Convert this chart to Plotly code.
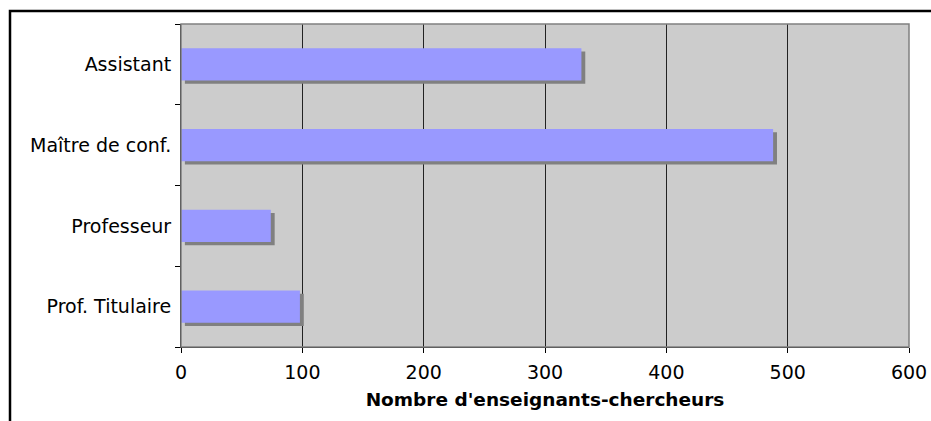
import plotly.graph_objects as go

categories = ["Prof. Titulaire", "Professeur", "Maître de conf.", "Assistant"]
values = [98, 74, 488, 330]
x_ticks = [0, 100, 200, 300, 400, 500, 600]

FONT = "DejaVu Sans"
bar_width = 0.4
shadow_dx = 3.2      # shadow shift along value axis (data units)
shadow_dy = 0.04     # shadow shift along category axis (category units)

fig = go.Figure()
fig.add_trace(go.Bar(
    y=categories, x=values, orientation="h",
    base=[shadow_dx] * len(values),
    width=bar_width, offset=-bar_width / 2 - shadow_dy,
    marker=dict(color="#808080", line=dict(width=0)),
    hoverinfo="skip", showlegend=False,
))
fig.add_trace(go.Bar(
    y=categories, x=values, orientation="h",
    width=bar_width, offset=-bar_width / 2,
    marker=dict(color="#9999FF", line=dict(width=0)),
    showlegend=False,
))

L, R, T, B = 181, 22, 24, 74
W, H = 931, 421
pw, ph = W - L - R, H - T - B

fig.update_layout(
    width=W, height=H,
    margin=dict(l=L, r=R, t=T, b=B, pad=0, autoexpand=False),
    paper_bgcolor="white", plot_bgcolor="#CCCCCC",
    barmode="overlay", bargap=0.6,
    font=dict(family=FONT, size=19, color="black"),
    xaxis=dict(
        range=[0, 600], tickvals=x_ticks, ticktext=[str(v) for v in x_ticks],
        automargin=False,
        showgrid=True, gridcolor="#222222", gridwidth=1,
        showline=True, linecolor="black", linewidth=1,
        ticks="outside", ticklen=5, tickcolor="black",
        ticklabelstandoff=3,
        zeroline=False,
        title=dict(text="<b>Nombre d'enseignants-chercheurs</b>",
                   font=dict(family=FONT, size=18.5), standoff=11),
        fixedrange=True,
    ),
    yaxis=dict(
        categoryorder="array", categoryarray=categories,
        automargin=False,
        showgrid=False, showline=True, linecolor="black", linewidth=1,
        ticks="outside", ticklen=5, tickcolor="black", tickson="boundaries",
        ticklabelstandoff=5,
        fixedrange=True,
    ),
    shapes=[
        # plot-area border (gray on top / right)
        dict(type="rect", xref="paper", yref="paper", x0=0, x1=1, y0=0, y1=1,
             line=dict(color="#808080", width=1.5), layer="above"),
        # outer frame (extends past the visible page)
        dict(type="rect", xref="paper", yref="paper",
             x0=(10 - L) / pw, x1=1.2, y0=-0.5, y1=(H - B - 11) / ph,
             line=dict(color="black", width=2.5), layer="above"),
    ],
)

fig.write_html(
    "out.html",
    config={"displayModeBar": False},
    post_script="document.body.style.margin='0';document.body.style.overflow='hidden';",
)
